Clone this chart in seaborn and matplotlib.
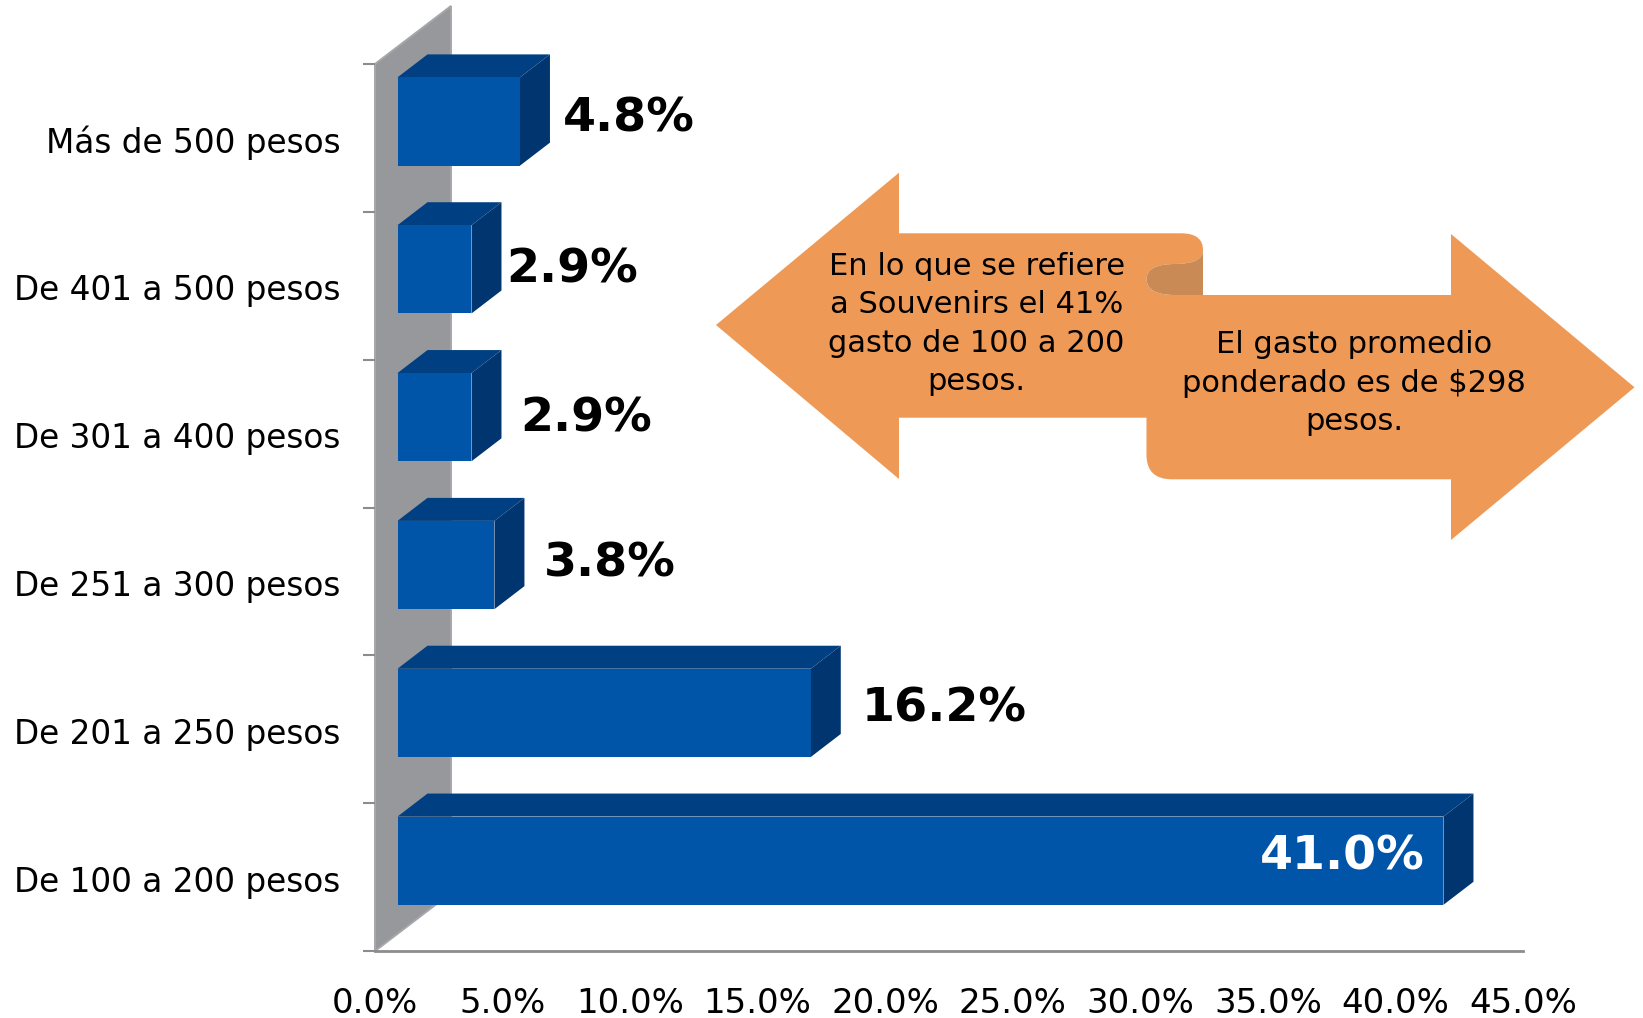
import matplotlib
matplotlib.use("Agg")
import matplotlib.pyplot as plt
import seaborn as sns
from matplotlib.patches import Polygon, PathPatch
from matplotlib.path import Path
from matplotlib.transforms import Affine2D

# Spending brackets, top to bottom, with their share of respondents (%)
categories = ["Más de 500 pesos", "De 401 a 500 pesos", "De 301 a 400 pesos",
              "De 251 a 300 pesos", "De 201 a 250 pesos", "De 100 a 200 pesos"]
shares = [4.8, 2.9, 2.9, 3.8, 16.2, 41.0]
value_labels = ["4.8%", "2.9%", "2.9%", "3.8%", "16.2%", "41.0%"]
x_ticks = [0, 5, 10, 15, 20, 25, 30, 35, 40, 45]
x_tick_labels = ["0.0%", "5.0%", "10.0%", "15.0%", "20.0%", "25.0%",
                 "30.0%", "35.0%", "40.0%", "45.0%"]
left_note = "En lo que se refiere\na Souvenirs el 41%\ngasto de 100 a 200\npesos."
right_note = "El gasto promedio\nponderado es de $298\npesos."

W, H = 1643, 1018
FRONT, TOP, SIDE = "#0055A8", "#004082", "#00356F"
WALL, AXIS, ORANGE, CURL = "#97989C", "#8C8C8C", "#EE9955", "#C98A55"

sns.set_theme(style="white")
plt.rcParams["font.family"] = ["DejaVu Sans"]

fig = plt.figure(figsize=(W / 100, H / 100), dpi=100, facecolor="white")
ax = fig.add_axes([375 / W, 1 - 951 / H, (1523 - 375) / W, (951 - 64) / H])

sns.barplot(x=shares, y=categories, order=categories, color=FRONT, saturation=1,
            width=0.597, linewidth=0, ax=ax, zorder=3)
ax.set_xlim(0, 45)
ax.set_ylim(5.5, -0.5)

# Canvas pixels with the origin at the top left, for the pseudo-3D decoration
px = Affine2D().scale(1, -1).translate(0, H)

# Back wall of the 3D frame
ax.add_patch(Polygon([(375, 64), (451, 6), (451, 893), (375, 951)], closed=True,
                     facecolor=WALL, edgecolor="#A6A7AA", linewidth=1.4,
                     transform=px, clip_on=False, zorder=0.5))

# Slide the bars off the wall and give each a top and a side face
shift_x, shift_y, depth_x, depth_y = 22.5, 16.4, 30, 23
for bar in ax.containers[0]:
    bar.set_transform(ax.transData + Affine2D().translate(shift_x, shift_y))
    bar.set_clip_on(False)
    corners = bar.get_data_transform().transform(bar.get_corners())
    x0, x1 = corners[:, 0].min(), corners[:, 0].max()
    lo, hi = corners[:, 1].min(), corners[:, 1].max()
    ax.add_patch(Polygon([(x0, hi), (x1, hi), (x1 + depth_x, hi + depth_y), (x0 + depth_x, hi + depth_y)],
                         closed=True, facecolor=TOP, edgecolor="none",
                         transform=Affine2D(), clip_on=False, zorder=2.5))
    ax.add_patch(Polygon([(x1, lo), (x1 + depth_x, lo + depth_y), (x1 + depth_x, hi + depth_y), (x1, hi)],
                         closed=True, facecolor=SIDE, edgecolor="none",
                         transform=Affine2D(), clip_on=False, zorder=2.5))

# Axes styling: ticks on the band edges, labels in the band centres
for side in ("top", "right", "left"):
    ax.spines[side].set_visible(False)
ax.spines["bottom"].set_color(AXIS)
ax.spines["bottom"].set_linewidth(2)
ax.set_xticks(x_ticks, x_tick_labels)
ax.set_yticks(range(len(categories)), categories)
ax.set_yticks([i - 0.5 for i in range(len(categories) + 1)], minor=True)
ax.tick_params(axis="x", length=8.5, width=1.7, color=AXIS, pad=17.5, labelsize=24.5, labelcolor="black")
ax.tick_params(axis="y", which="major", length=0, pad=25, labelsize=23.6, labelcolor="black")
ax.tick_params(axis="y", which="minor", left=True, length=8.5, width=1.5, color=AXIS)
for label in ax.get_yticklabels():
    label.set_y(label.get_position()[1])
    label.set_transform(label.get_transform() + Affine2D().translate(0, -1.5))
ax.set_xlabel("")
ax.set_ylabel("")

# Value labels, nudged by hand in pixels from each bar's value and band centre
label_nudges = [(131, 19), (123, 16), (137, 15), (138, 17), (156, 20), (-79, 20)]
label_colors = ["black"] * 5 + ["white"]
for i, (value, text, nudge, colour) in enumerate(zip(shares, value_labels, label_nudges, label_colors)):
    ax.annotate(text, xy=(value, i), xytext=(nudge[0] * 0.72, nudge[1] * 0.72),
                textcoords="offset points", ha="center", va="center",
                fontsize=34.2, fontweight="bold", color=colour, zorder=5, annotation_clip=False)

# Double callout arrow
M, L, C = Path.MOVETO, Path.LINETO, Path.CURVE3
outline = [
    ((716, 325), M), ((899, 172.7), L), ((899, 233.3), L), ((1181, 233.3), L),
    ((1203, 233.3), C), ((1203, 250), L), ((1203, 264), C), ((1175, 264), L),
    ((1146.5, 264), C), ((1146.5, 279), L), ((1146.5, 295), C), ((1175, 295), L),
    ((1451, 295), L), ((1451, 234), L), ((1634.5, 387.3), L), ((1451, 540), L),
    ((1451, 479.3), L), ((1172, 479.3), L), ((1146.5, 479.3), C), ((1146.5, 455), L),
    ((1146.5, 417.7), L), ((899, 417.7), L), ((899, 479), L), ((716, 325), L),
]
ax.add_patch(PathPatch(Path([p for p, _ in outline], [c for _, c in outline]),
                       facecolor=ORANGE, edgecolor="none", transform=px, clip_on=False, zorder=6))
fold = [
    ((1203, 250), M), ((1203, 264), C), ((1175, 264), L), ((1146.5, 264), C), ((1146.5, 279), L),
    ((1146.5, 295), C), ((1175, 295), L), ((1203, 295), L), ((1203, 250), L),
]
ax.add_patch(PathPatch(Path([p for p, _ in fold], [c for _, c in fold]),
                       facecolor=CURL, edgecolor="none", transform=px, clip_on=False, zorder=6.5))
fig.text(976.6 / W, 1 - 324 / H, left_note, ha="center", va="center", fontsize=22,
         linespacing=1.4, color="black", zorder=7)
fig.text(1354 / W, 1 - 383 / H, right_note, ha="center", va="center", fontsize=22,
         linespacing=1.4, color="black", zorder=7)

fig.savefig("out.png", dpi=100)
